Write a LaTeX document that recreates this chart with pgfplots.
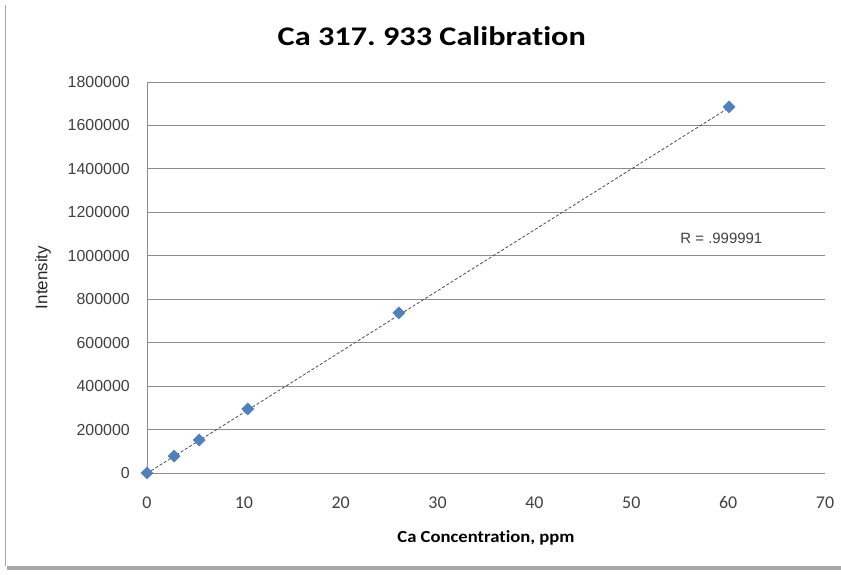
\documentclass[border=0pt]{standalone}
\usepackage{pgfplots}
\pgfplotsset{compat=1.18}
\usepackage{fontspec}
\setmainfont{Carlito}[Ligatures=NoCommon]
\newfontfamily\titlefont[FakeStretch=1.2, Ligatures=NoCommon]{Carlito}
\newfontfamily\xlabfont[FakeStretch=1.1, Ligatures=NoCommon]{Carlito}
\newfontfamily\arialfont{Liberation Sans}
\frenchspacing
\definecolor{exblue}{HTML}{4F81BD}
\definecolor{gridgray}{HTML}{8C8C8C}
\definecolor{ticktext}{HTML}{404040}
\begin{document}
\begin{tikzpicture}
\useasboundingbox (0,0) rectangle (841bp,575bp);
\fill[gray!70] (7bp,5bp) rectangle (841bp,9bp);
\draw[gray!70, line width=0.8bp] (5bp,9bp) -- (5bp,570bp);
\begin{axis}[
  at={(147bp,102bp)}, anchor=south west,
  scale only axis, width=678bp, height=391bp,
  xmin=0, xmax=70, ymin=0, ymax=1800000,
  xtick={0,10,...,70}, ytick={0,200000,...,1800000},
  scaled y ticks=false,
  yticklabel={\pgfmathprintnumber[fixed,1000 sep={},precision=0]{\tick}},
  /pgf/number format/assume math mode=true,
  axis x line*=bottom, axis y line*=left,
  axis line style={gridgray, line width=0.8bp},
  ymajorgrids, grid style={gridgray, line width=0.8bp},
  tick style={draw=none},
  xticklabel style={font=\fontsize{18}{20}\selectfont, text=ticktext, inner sep=0pt, anchor=center, yshift=-30bp},
  yticklabel style={font=\arialfont\fontsize{16}{18}\selectfont, text=ticktext, inner sep=0pt, anchor=east, xshift=-17bp},
  xlabel={\xlabfont\bfseries Ca Concentration, ppm},
  ylabel={\arialfont Intensity},
  xlabel style={font=\fontsize{17}{20}\selectfont, at={(axis description cs:0.5,0)}, anchor=center, yshift=-65bp},
  ylabel style={font=\fontsize{17}{20}\selectfont, text=black!85, at={(axis description cs:0,0.5)}, anchor=center, yshift=104bp},
  title={\titlefont\bfseries Ca 317. 933 Calibration},
  title style={font=\fontsize{27}{30}\selectfont, at={(axis description cs:0.42,1)}, anchor=center, yshift=40bp},
  clip=false,
]
\addplot[black!70, densely dashed, line width=0.8bp] coordinates {(0,-1500) (60.2,1685000)};
\addplot[only marks, mark=square*, mark size=4.3bp, mark options={rotate=45, fill=exblue, draw=exblue}] coordinates {
(0,0) (2.8,78000) (5.4,152000) (10.4,295000) (26.0,737000) (60.1,1685000)};
\node[font=\arialfont\fontsize{15}{17}\selectfont, text=ticktext] at (axis cs:59.3,1080000) {R = .999991};
\end{axis}
\end{tikzpicture}
\end{document}
